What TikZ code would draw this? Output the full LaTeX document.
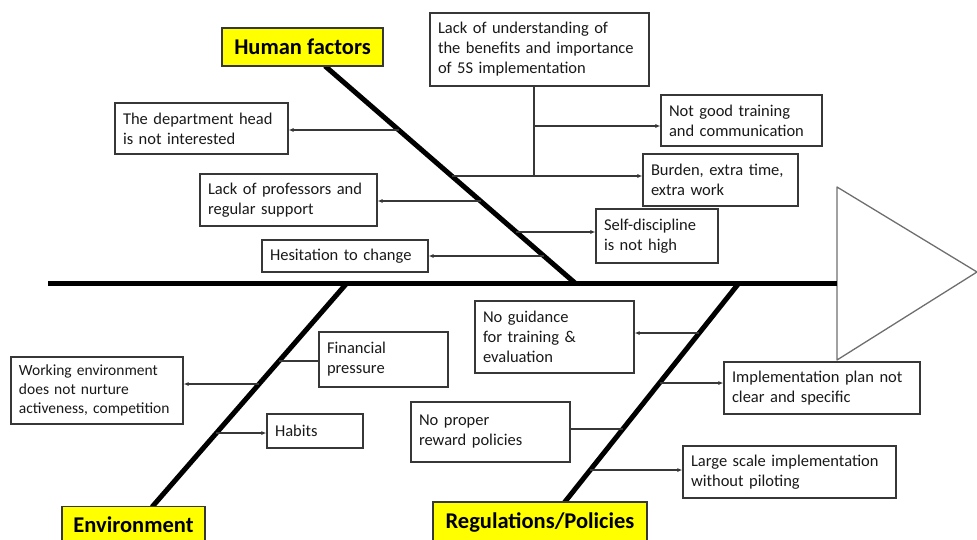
\documentclass[tikz,border=0pt]{standalone}
\usepackage{fontspec}
\setmainfont{Carlito}
\usetikzlibrary{arrows.meta,calc}
\definecolor{hdr}{RGB}{255,255,0}
\definecolor{edge}{RGB}{55,55,55}
\definecolor{ink}{RGB}{25,25,25}
\definecolor{headline}{RGB}{110,110,110}
\begin{document}
\begin{tikzpicture}[x=1pt,y=-1pt,
  cause/.style={draw=edge, line width=1.1pt, fill=white, text=ink, inner xsep=8pt, inner ysep=0pt,
    align=left, font=\fontsize{16.5}{20}\selectfont,
    execute at begin node={\hyphenpenalty=10000\exhyphenpenalty=10000}},
  head/.style={draw=edge, line width=1.1pt, fill=hdr, text=black, inner sep=0pt,
    font=\fontsize{22.5}{26}\selectfont\bfseries},
  bone/.style={line width=5pt, draw=black},
  twig/.style={line width=1.6pt, draw=edge},
  arr/.style={twig, -{Latex[length=5pt,width=4pt]}}]
\useasboundingbox (0,0) rectangle (977,540);

% fish head
\coordinate (T1) at (837,187);
\coordinate (T2) at (977,272);
\coordinate (T3) at (837,360);
\draw[headline, line width=1.3pt, line join=round] (T1) -- (T2) -- (T3) -- cycle;

% spine and bones
\coordinate (spL) at (48,283);
\coordinate (spR) at (837,283);
\draw[bone] (spL) -- (spR);
\coordinate (H1) at (325,66);
\coordinate (H2) at (575,283);
\coordinate (E1) at (347,283);
\coordinate (E2) at (152,507);
\coordinate (R1) at (739,283);
\coordinate (R2) at (564,503);
\draw[bone] (H1) -- (H2);
\draw[bone] (E1) -- (E2);
\draw[bone] (R1) -- (R2);

% category headers
\node[head, minimum width=161pt, minimum height=38pt] (human) at (302.5,47) {Human factors};
\node[head, minimum width=143pt, minimum height=37pt] (env) at (133.5,525) {Environment};
\node[head, minimum width=214pt, minimum height=41pt] (reg) at (540,522.5) {Regulations/Policies};

% Human factors causes
\node[cause, minimum width=173pt, text width=157pt, minimum height=51pt] (dept) at (201.5,128.5) {The department head\\is not interested};
\node[cause, minimum width=177pt, text width=161pt, minimum height=52pt] (prof) at (288.5,200) {Lack of professors and\\regular support};
\node[cause, minimum width=166pt, text width=150pt, minimum height=32pt] (hes) at (345,256) {Hesitation to change};
\node[cause, minimum width=219pt, text width=203pt, minimum height=73pt] (lack) at (539.5,49.5) {Lack of understanding of\\the benefits and importance\\of 5S implementation};
\node[cause, minimum width=161pt, text width=145pt, minimum height=51pt] (notgood) at (741.5,120.5) {Not good training\\and communication};
\node[cause, minimum width=155pt, text width=139pt, minimum height=52pt] (burden) at (720.5,180) {Burden, extra time,\\extra work};
\node[cause, minimum width=122pt, text width=106pt, minimum height=54pt] (self) at (657,236) {Self-discipline\\is not high};

% Environment causes
\node[cause, minimum width=172pt, text width=156pt, minimum height=67pt, font=\fontsize{15.5}{19}\selectfont] (workenv) at (97,390.5) {Working environment\\does not nurture\\activeness, competition};
\node[cause, minimum width=129pt, text width=113pt, minimum height=55pt] (fin) at (383.5,359.5) {Financial\\pressure};
\node[cause, minimum width=96pt, text width=80pt, minimum height=34pt] (habits) at (315,431) {Habits};

% Regulations causes
\node[cause, minimum width=159pt, text width=143pt, minimum height=72pt] (noguid) at (554.5,337) {No guidance\\for training \&\\evaluation};
\node[cause, minimum width=196pt, text width=180pt, minimum height=52pt] (impl) at (822,388) {Implementation plan not\\clear and specific};
\node[cause, minimum width=159pt, text width=143pt, minimum height=60pt] (reward) at (490.5,432) {No proper\\reward policies\\[8pt]};
\node[cause, minimum width=213pt, text width=197pt, minimum height=52pt] (large) at (789.5,472) {Large scale implementation\\without piloting};

% branch points on bones
\coordinate (bdept) at (intersection of H1--H2 and 0,130--1,130);
\coordinate (bprof) at (intersection of H1--H2 and 0,201--1,201);
\coordinate (bhes) at (intersection of H1--H2 and 0,256--1,256);
\coordinate (bburden) at (intersection of H1--H2 and 0,176--1,176);
\coordinate (bself) at (intersection of H1--H2 and 0,232--1,232);
\coordinate (lj) at (534,176);
\coordinate (ln) at (534,126);

\coordinate (bfin) at (intersection of E1--E2 and 0,361--1,361);
\coordinate (bwork) at (intersection of E1--E2 and 0,384--1,384);
\coordinate (bhab) at (intersection of E1--E2 and 0,433--1,433);

\coordinate (bguid) at (intersection of R1--R2 and 0,333--1,333);
\coordinate (bimpl) at (intersection of R1--R2 and 0,383--1,383);
\coordinate (brew) at (intersection of R1--R2 and 0,429--1,429);
\coordinate (blarge) at (intersection of R1--R2 and 0,470--1,470);

% connectors
\draw[arr] (bdept) -- (bdept -| dept.east);
\draw[arr] (bprof) -- (bprof -| prof.east);
\draw[arr] (bhes) -- (bhes -| hes.east);
\draw[arr] (bburden) -- (bburden -| burden.west);
\draw[arr] (bself) -- (bself -| self.west);
\draw[twig] (lj |- lack.south) -- (lj);
\draw[arr] (ln) -- (ln -| notgood.west);

\draw[twig] (bfin) -- (bfin -| fin.west);
\draw[arr] (bwork) -- (bwork -| workenv.east);
\draw[arr] (bhab) -- (bhab -| habits.west);

\draw[arr] (bguid) -- (bguid -| noguid.east);
\draw[arr] (bimpl) -- (bimpl -| impl.west);
\draw[twig] (reward.east |- brew) -- (brew);
\draw[arr] (blarge) -- (blarge -| large.west);
\end{tikzpicture}
\end{document}
